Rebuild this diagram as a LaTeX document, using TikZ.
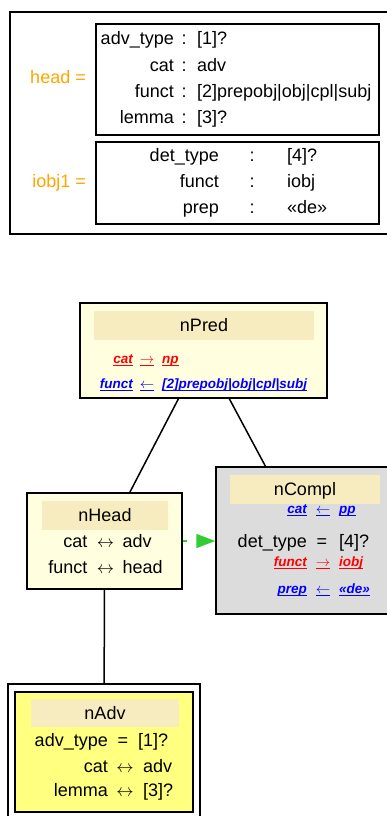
\documentclass[tikz,border=0pt]{standalone}
\usepackage{fontspec}
\setmainfont{Liberation Sans}
\usetikzlibrary{arrows.meta}
\definecolor{bandc}{HTML}{F7ECBF}
\definecolor{paley}{HTML}{FFFFE0}
\definecolor{grayc}{HTML}{DCDCDC}
\definecolor{yelc}{HTML}{FFFF80}
\definecolor{orng}{HTML}{FFA500}
\definecolor{grn}{HTML}{32CD32}
\newsavebox\ulbox
\newcommand\ulc[1]{\sbox\ulbox{#1}\rlap{\rule[-3pt]{\wd\ulbox}{1.5pt}}\usebox\ulbox}
\newcommand\rbfont{\fontsize{13.5}{16}\selectfont\bfseries\itshape}
\newcommand\lra{\(\leftrightarrow\)}
\newcommand\ra{\(\rightarrow\)}
\newcommand\la{\(\leftarrow\)}

\begin{document}
\begin{tikzpicture}[x=1pt,y=-1pt,
  txt/.style={inner sep=0pt,font=\fontsize{18}{21}\selectfont},
  lab/.style={txt,anchor=base east},
  val/.style={txt,anchor=base west},
  mid/.style={txt,anchor=base},
  sml/.style={inner sep=0pt,font=\rbfont},
  box/.style={draw,rectangle,inner sep=0pt,line width=1.5pt},
  band/.style={fill=bandc,inner sep=0pt,txt,text height=12.5pt,text depth=0pt}]
  \useasboundingbox (0,0) rectangle (387,816);
  % feature structure
  \node[box,line width=1.2pt,minimum width=386,minimum height=222] (fs) at (203,123) {};
  \node[box,line width=1.8pt,minimum width=283,minimum height=111] (fsHead) at (237.5,79.5) {};
  \node[box,line width=1.8pt,minimum width=283,minimum height=82] (fsIobj) at (237.5,183) {};
  \node[lab,orng] (hdLab) at (86,83) {head =};
  \node[lab,orng] (ioLab) at (86,187) {iobj1 =};
  \node[lab] (hk1) at (174,45) {adv\_type}; \node[mid] (hc1) at (184,45) {:}; \node[val] (hv1) at (197,45) {[1]?};
  \node[lab] (hk2) at (174,71) {cat};       \node[mid] (hc2) at (184,71) {:}; \node[val] (hv2) at (197,71) {adv};
  \node[lab] (hk3) at (174,97) {funct};     \node[mid] (hc3) at (184,97) {:}; \node[val] (hv3) at (197,97) {[2]prepobj|obj|cpl|subj};
  \node[lab] (hk4) at (174,123) {lemma};    \node[mid] (hc4) at (184,123) {:}; \node[val] (hv4) at (197,123) {[3]?};
  \node[lab] (ik1) at (219,161) {det\_type}; \node[mid] (ic1) at (252,161) {:}; \node[val] (iv1) at (287,161) {[4]?};
  \node[lab] (ik2) at (219,187) {funct};     \node[mid] (ic2) at (252,187) {:}; \node[val] (iv2) at (287,187) {iobj};
  \node[lab] (ik3) at (219,213) {prep};      \node[mid] (ic3) at (252,213) {:}; \node[val] (iv3) at (287,213) {«de»};

  % pattern graph
  \node[box,fill=paley,minimum width=247,minimum height=95] (nPred) at (203.5,350.5) {};
  \node[band,minimum width=220,minimum height=29] (nPredT) at (204,325) {nPred};
  \node[sml,red,anchor=base east] (pk1) at (133,363) {\ulc{cat}};
  \node[sml,red,anchor=base] (pa1) at (147,363) {\ulc{\ra}};
  \node[sml,red,anchor=base west] (pv1) at (162,363) {\ulc{np}};
  \node[sml,blue,anchor=base east] (pk2) at (133,388) {\ulc{funct}};
  \node[sml,blue,anchor=base] (pa2) at (147,388) {\ulc{\la}};
  \node[sml,blue,anchor=base west] (pv2) at (162,388) {\ulc{[2]prepobj|obj|cpl|subj}};

  \node[box,fill=paley,minimum width=155,minimum height=96] (nHead) at (104.5,541) {};
  \node[band,minimum width=126,minimum height=29] (nHeadT) at (105,515) {nHead};
  \node[lab] (dk1) at (87.5,547) {cat};   \node[mid] (da1) at (105.5,547) {\lra}; \node[val] (dv1) at (122.5,547) {adv};
  \node[lab] (dk2) at (87.5,573) {funct}; \node[mid] (da2) at (105.5,573) {\lra}; \node[val] (dv2) at (122.5,573) {head};

  \node[box,fill=grayc,minimum width=178,minimum height=147] (nCompl) at (305,540.5) {};
  \node[band,minimum width=150,minimum height=29] (nComplT) at (305,489) {nCompl};
  \node[sml,blue,anchor=base east] (ck1) at (307,513) {\ulc{cat}};
  \node[sml,blue,anchor=base] (ca1) at (323,513) {\ulc{\la}};
  \node[sml,blue,anchor=base west] (cv1) at (339,513) {\ulc{pp}};
  \node[lab] (ck2) at (307,547) {det\_type}; \node[mid] (ca2) at (322,547) {=}; \node[val] (cv2) at (339,547) {[4]?};
  \node[sml,red,anchor=base east] (ck3) at (307,566) {\ulc{funct}};
  \node[sml,red,anchor=base] (ca3) at (323,566) {\ulc{\ra}};
  \node[sml,red,anchor=base west] (cv3) at (339,566) {\ulc{iobj}};
  \node[sml,blue,anchor=base east] (ck4) at (307,593) {\ulc{prep}};
  \node[sml,blue,anchor=base] (ca4) at (323,593) {\ulc{\la}};
  \node[sml,blue,anchor=base west] (cv4) at (339,593) {\ulc{«de»}};

  \node[box,line width=1.2pt,minimum width=192,minimum height=136] (nAdvOut) at (104,752) {};
  \node[box,line width=2.5pt,fill=yelc,minimum width=178,minimum height=120] (nAdv) at (104,752) {};
  \node[band,minimum width=148,minimum height=28] (nAdvT) at (105,713) {nAdv};
  \node[lab] (ak1) at (108,746) {adv\_type}; \node[mid] (aa1) at (123,746) {=}; \node[val] (av1) at (138,746) {[1]?};
  \node[lab] (ak2) at (108,772) {cat};   \node[mid] (aa2) at (125,772) {\lra}; \node[val] (av2) at (143,772) {adv};
  \node[lab] (ak3) at (108,796) {lemma}; \node[mid] (aa3) at (125,796) {\lra}; \node[val] (av3) at (143,796) {[3]?};

  \draw[line width=1.5pt] (nPred) -- (nHead);
  \draw[line width=1.5pt] (nPred) -- (nCompl);
  \draw[line width=1.5pt] (nHead) -- (nAdvOut);
  \draw[grn,line width=1.5pt,dash pattern=on 4pt off 10pt,-{Triangle[length=19pt,width=14pt]}] (nHead.east) -- (nCompl.west |- nHead.east);
\end{tikzpicture}
\end{document}
